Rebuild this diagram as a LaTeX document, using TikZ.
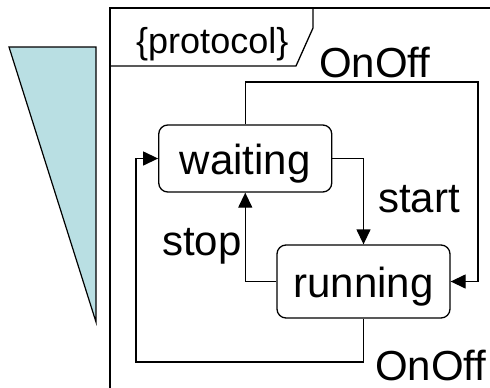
\documentclass[tikz,border=0pt]{standalone}
\usepackage{fontspec}
\setmainfont{Liberation Sans}
\usetikzlibrary{arrows.meta}
\definecolor{tealpale}{RGB}{185,223,227}
\begin{document}
\begin{tikzpicture}[x=1pt,y=-1pt,
  statebox/.style={draw,line width=1.3pt,rounded corners=9pt,inner sep=0pt,
    minimum width=173pt,font=\fontsize{42}{48}\selectfont,
    text height=32pt,text depth=0pt},
  lbl/.style={anchor=base west,inner sep=0pt,font=\fontsize{42}{48}\selectfont},
  flow/.style={line width=1.3pt,-{Triangle[length=15pt,width=14pt]}}]
\useasboundingbox (0,0) rectangle (490,388);
% side wedge
\filldraw[fill=tealpale,line width=1.2pt] (9,47) -- (96,47) -- (96,322) -- cycle;
% frame with name tab
\draw[line width=1.5pt] (110,388) -- (110,8) -- (490,8);
\draw[line width=1.3pt] (110,66) -- (296,66) -- (313,28) -- (313,8);
\node[anchor=base west,inner sep=0pt,font=\fontsize{36}{42}\selectfont] (proto) at (136,53) {\{protocol\}};
% states
\node[statebox,minimum height=67pt] (waiting) at (245.25,158.5) {waiting};
\node[statebox,minimum height=73pt] (running) at (363.5,281.5) {running};
% transitions
\coordinate (topturn) at (478,82);
\coordinate (botturn) at (136,362);
\draw[flow] (waiting.north) |- (topturn) |- (running.east);
\draw[flow] (waiting.east) -| (running.north);
\draw[flow] (running.west) -| (waiting.south);
\draw[flow] (running.south) |- (botturn) |- (waiting.west);
% transition labels
\node[lbl] (ontop) at (319,77) {OnOff};
\node[lbl] (start) at (378,212) {start};
\node[lbl] (stop) at (162,255) {stop};
\node[lbl,text height=30pt,text depth=0pt] (onbot) at (375,380) {OnOff};
\end{tikzpicture}
\end{document}
